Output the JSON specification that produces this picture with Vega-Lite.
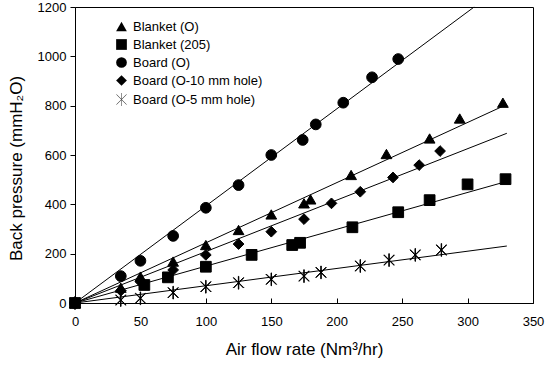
{
  "$schema": "https://vega.github.io/schema/vega-lite/v6.json",
  "width": 458,
  "height": 296,
  "autosize": "none",
  "padding": {"left": 75, "top": 7, "right": 17, "bottom": 67},
  "background": "white",
  "config": {
    "view": {"stroke": "black", "strokeWidth": 1},
    "font": "Liberation Sans",
    "axis": {"labelFont": "Liberation Sans", "titleFont": "Liberation Sans", "labelColor": "black", "titleColor": "black", "domainColor": "black", "tickColor": "black", "grid": false, "titleFontWeight": "normal", "labelFontSize": 13, "titleFontSize": 17}
  },
  "datasets": {
    "pts": [
      {"series": "Blanket (O)", "x": 0, "y": 0},
      {"series": "Blanket (O)", "x": 35, "y": 62},
      {"series": "Blanket (O)", "x": 50, "y": 107},
      {"series": "Blanket (O)", "x": 75, "y": 168},
      {"series": "Blanket (O)", "x": 100, "y": 235},
      {"series": "Blanket (O)", "x": 125, "y": 296},
      {"series": "Blanket (O)", "x": 150, "y": 359},
      {"series": "Blanket (O)", "x": 175, "y": 404},
      {"series": "Blanket (O)", "x": 180, "y": 420},
      {"series": "Blanket (O)", "x": 211, "y": 519},
      {"series": "Blanket (O)", "x": 238, "y": 604},
      {"series": "Blanket (O)", "x": 271, "y": 667},
      {"series": "Blanket (O)", "x": 294, "y": 748},
      {"series": "Blanket (O)", "x": 327, "y": 812},
      {"series": "Blanket (205)", "x": 0, "y": 0},
      {"series": "Blanket (205)", "x": 53, "y": 73},
      {"series": "Blanket (205)", "x": 71, "y": 104},
      {"series": "Blanket (205)", "x": 100, "y": 147},
      {"series": "Blanket (205)", "x": 135, "y": 195},
      {"series": "Blanket (205)", "x": 166, "y": 235},
      {"series": "Blanket (205)", "x": 172, "y": 244},
      {"series": "Blanket (205)", "x": 212, "y": 307},
      {"series": "Blanket (205)", "x": 247, "y": 368},
      {"series": "Blanket (205)", "x": 271, "y": 417},
      {"series": "Blanket (205)", "x": 300, "y": 481},
      {"series": "Blanket (205)", "x": 329, "y": 502},
      {"series": "Board (O)", "x": 0, "y": 0},
      {"series": "Board (O)", "x": 35, "y": 109},
      {"series": "Board (O)", "x": 50, "y": 171},
      {"series": "Board (O)", "x": 75, "y": 272},
      {"series": "Board (O)", "x": 100, "y": 386},
      {"series": "Board (O)", "x": 125, "y": 478},
      {"series": "Board (O)", "x": 150, "y": 600},
      {"series": "Board (O)", "x": 174, "y": 661},
      {"series": "Board (O)", "x": 184, "y": 724},
      {"series": "Board (O)", "x": 205, "y": 812},
      {"series": "Board (O)", "x": 227, "y": 915},
      {"series": "Board (O)", "x": 247, "y": 989},
      {"series": "Board (O-10 mm hole)", "x": 0, "y": 0},
      {"series": "Board (O-10 mm hole)", "x": 35, "y": 50},
      {"series": "Board (O-10 mm hole)", "x": 50, "y": 86},
      {"series": "Board (O-10 mm hole)", "x": 75, "y": 134},
      {"series": "Board (O-10 mm hole)", "x": 100, "y": 195},
      {"series": "Board (O-10 mm hole)", "x": 125, "y": 239},
      {"series": "Board (O-10 mm hole)", "x": 150, "y": 289},
      {"series": "Board (O-10 mm hole)", "x": 175, "y": 340},
      {"series": "Board (O-10 mm hole)", "x": 196, "y": 404},
      {"series": "Board (O-10 mm hole)", "x": 218, "y": 451},
      {"series": "Board (O-10 mm hole)", "x": 243, "y": 509},
      {"series": "Board (O-10 mm hole)", "x": 263, "y": 559},
      {"series": "Board (O-10 mm hole)", "x": 279, "y": 616},
      {"series": "Board (O-5 mm hole)", "x": 0, "y": 0},
      {"series": "Board (O-5 mm hole)", "x": 35, "y": 12},
      {"series": "Board (O-5 mm hole)", "x": 50, "y": 19},
      {"series": "Board (O-5 mm hole)", "x": 75, "y": 42},
      {"series": "Board (O-5 mm hole)", "x": 100, "y": 66},
      {"series": "Board (O-5 mm hole)", "x": 125, "y": 82},
      {"series": "Board (O-5 mm hole)", "x": 150, "y": 96},
      {"series": "Board (O-5 mm hole)", "x": 175, "y": 109},
      {"series": "Board (O-5 mm hole)", "x": 188, "y": 124},
      {"series": "Board (O-5 mm hole)", "x": 218, "y": 150},
      {"series": "Board (O-5 mm hole)", "x": 240, "y": 174},
      {"series": "Board (O-5 mm hole)", "x": 260, "y": 195},
      {"series": "Board (O-5 mm hole)", "x": 280, "y": 215}
    ],
    "fits": [
      {"series": "Blanket (O)", "x": 0, "y": 0},
      {"series": "Blanket (O)", "x": 330, "y": 805},
      {"series": "Blanket (205)", "x": 0, "y": 0},
      {"series": "Blanket (205)", "x": 330, "y": 493},
      {"series": "Board (O)", "x": 0, "y": 0},
      {"series": "Board (O)", "x": 305, "y": 1200},
      {"series": "Board (O-10 mm hole)", "x": 0, "y": 0},
      {"series": "Board (O-10 mm hole)", "x": 330, "y": 688},
      {"series": "Board (O-5 mm hole)", "x": 0, "y": 0},
      {"series": "Board (O-5 mm hole)", "x": 330, "y": 231}
    ]
  },
  "layer": [
    {
      "data": {"name": "fits"},
      "mark": {"type": "line", "color": "black", "strokeWidth": 1},
      "encoding": {
        "x": {"field": "x", "type": "quantitative", "scale": {"domain": [0, 350], "nice": false}},
        "y": {"field": "y", "type": "quantitative", "scale": {"domain": [0, 1200], "nice": false}},
        "detail": {"field": "series"}
      }
    },
    {
      "data": {"name": "pts"},
      "mark": {"type": "point", "filled": true, "color": "black", "stroke": "black", "strokeWidth": 1, "opacity": 1, "size": 115},
      "encoding": {
        "x": {"field": "x", "type": "quantitative",
          "axis": {"title": "Air flow rate (Nm³/hr)", "values": [0,25,50,75,100,125,150,175,200,225,250,275,300,325,350],
            "format": "d",
            "labelExpr": "datum.value % 50 === 0 ? datum.label : ''",
            "tickSize": {"condition": {"test": "datum.value % 50 !== 0", "value": -3}, "value": -5},
            "labelPadding": 17, "titlePadding": 13, "labelFlush": false}},
        "y": {"field": "y", "type": "quantitative",
          "axis": {"title": "Back pressure (mmH₂O)", "values": [0,100,200,300,400,500,600,700,800,900,1000,1100,1200],
            "format": "d",
            "labelExpr": "datum.value % 200 === 0 ? datum.label : ''",
            "tickSize": {"condition": {"test": "datum.value % 200 !== 0", "value": 3}, "value": 5},
            "labelPadding": 4, "titlePadding": 12, "titleY": 161, "labelFlush": false}},
        "shape": {"field": "series", "type": "nominal",
          "scale": {"domain": ["Blanket (O)", "Blanket (205)", "Board (O)", "Board (O-10 mm hole)", "Board (O-5 mm hole)"],
                    "range": ["triangle-up", "square", "circle", "diamond", "M-0.04,-1.2L0.04,-1.2L0.04,1.2L-0.04,1.2ZM0.922,0.978L0.978,0.922L-0.922,-0.978L-0.978,-0.922ZM0.978,-0.922L0.922,-0.978L-0.978,0.922L-0.922,0.978Z"]},
          "legend": {"title": null, "orient": "none", "legendX": 40, "legendY": 13, "labelFontSize": 13, "labelFont": "Liberation Sans", "labelColor": "black",
            "symbolFillColor": "black", "symbolStrokeColor": "black", "symbolStrokeWidth": 1, "symbolSize": 115, "symbolOpacity": 1, "rowPadding": 3, "labelOffset": 5}}
      }
    }
  ]
}
